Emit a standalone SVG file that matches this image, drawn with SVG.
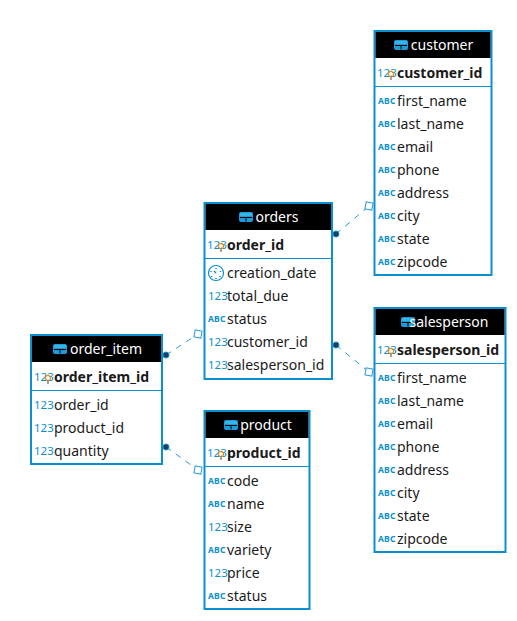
<svg xmlns="http://www.w3.org/2000/svg" width="517" height="621" viewBox="0 0 517 621">
<style>
text{font-family:"Noto Sans","Open Sans","DejaVu Sans",sans-serif;font-size:14px;fill:#1a1a1a}
.box{fill:#fff;stroke:#0a8fd0;stroke-width:2}
.hd{fill:#000}
.sep{stroke:#0a8fd0;stroke-width:1}
text.t{fill:#fff;text-anchor:middle}
text.k{font-weight:700}
text.n{font-size:11.5px;fill:#0a8fd0}
text.a{font-size:8.5px;font-weight:700;fill:#0a8fd0;letter-spacing:.2px}
.lk{fill:none;stroke:#2a9ad6;stroke-width:1;stroke-dasharray:6 6}
.dot{fill:#1f3f5c;stroke:#0a8fd0;stroke-width:1}
.end{fill:#fff;stroke:#2a9ad6;stroke-width:1}
</style>
<defs>
<g id="tbl"><rect x="0" y="0" width="14" height="10" rx="2" fill="#1e9ad8"/><path d="M1 5.5H13M7 5.5V9.5" stroke="#000" stroke-width="1"/><rect x="1" y="1" width="12" height="3" fill="#35b4ec"/></g>
<g id="key"><circle cx="0" cy="0" r="2.6" fill="none" stroke="#e98a15" stroke-width="1.2"/><path d="M0 2.6V6" stroke="#8a7a60" stroke-width="1.4"/></g>
<g id="clk"><circle cx="8" cy="8" r="7.5" fill="#fff" stroke="#0a8fd0" stroke-width="1.2"/><path d="M8 3v1M12.5 6v1M12 11v1M8 13v1M3.500 11v1M3 6v1M6 6l2 2" stroke="#0a8fd0" stroke-width="1.400" fill="none"/></g>
</defs>
<g id="connectors">
<path class="lk" d="M336 234L369 206"/>
<path class="lk" d="M336 345L369 372"/>
<path class="lk" d="M166 355L198 334"/>
<path class="lk" d="M166 447L198 470"/>
<circle class="dot" cx="336" cy="234" r="3"/>
<circle class="dot" cx="336" cy="345" r="3"/>
<circle class="dot" cx="166" cy="355" r="3"/>
<circle class="dot" cx="166" cy="447" r="3"/>
<rect class="end" x="365.500" y="202.500" width="7" height="7" transform="rotate(10 369 206)"/>
<rect class="end" x="365.500" y="368.500" width="7" height="7" transform="rotate(10 369 372)"/>
<rect class="end" x="194.500" y="330.500" width="7" height="7" transform="rotate(10 198 334)"/>
<rect class="end" x="194.500" y="466.500" width="7" height="7" transform="rotate(10 198 470)"/>
</g>
<g id="customer">
<rect class="box" x="374.500" y="31" width="117" height="244"/>
<rect class="hd" x="375.500" y="32" width="115" height="26"/>
<use href="#tbl" x="394" y="40"/>
<text class="t" x="442" y="50">customer</text>
<line class="sep" x1="375" y1="86.500" x2="491" y2="86.500"/>
<text class="n" x="377" y="77">123</text><use href="#key" x="391" y="74"/>
<text class="k" x="397" y="78">customer_id</text>
<text class="a" x="378" y="104">ABC</text><text x="397" y="106">first_name</text>
<text class="a" x="378" y="127">ABC</text><text x="397" y="129">last_name</text>
<text class="a" x="378" y="150">ABC</text><text x="397" y="152">email</text>
<text class="a" x="378" y="173">ABC</text><text x="397" y="175">phone</text>
<text class="a" x="378" y="196">ABC</text><text x="397" y="198">address</text>
<text class="a" x="378" y="219">ABC</text><text x="397" y="221">city</text>
<text class="a" x="378" y="242">ABC</text><text x="397" y="244">state</text>
<text class="a" x="378" y="265">ABC</text><text x="397" y="267">zipcode</text>
</g>
<g id="orders">
<rect class="box" x="204.500" y="203" width="127.500" height="176"/>
<rect class="hd" x="205.500" y="204" width="125.500" height="26"/>
<use href="#tbl" x="239" y="212"/>
<text class="t" x="277" y="222">orders</text>
<line class="sep" x1="205" y1="258.500" x2="331" y2="258.500"/>
<text class="n" x="207" y="249">123</text><use href="#key" x="221" y="246"/>
<text class="k" x="227" y="250">order_id</text>
<use href="#clk" x="208" y="265"/><text x="227" y="278">creation_date</text>
<text class="n" x="208" y="300">123</text><text x="227" y="301">total_due</text>
<text class="a" x="208" y="322">ABC</text><text x="227" y="324">status</text>
<text class="n" x="208" y="346">123</text><text x="227" y="347">customer_id</text>
<text class="n" x="208" y="369">123</text><text x="227" y="370">salesperson_id</text>
</g>
<g id="salesperson">
<rect class="box" x="374.500" y="308" width="131" height="244"/>
<rect class="hd" x="375.500" y="309" width="129" height="26"/>
<use href="#tbl" x="401" y="317"/>
<text class="t" x="449" y="327">salesperson</text>
<line class="sep" x1="375" y1="363.500" x2="505" y2="363.500"/>
<text class="n" x="377" y="354">123</text><use href="#key" x="391" y="351"/>
<text class="k" x="397" y="355">salesperson_id</text>
<text class="a" x="378" y="381">ABC</text><text x="397" y="383">first_name</text>
<text class="a" x="378" y="404">ABC</text><text x="397" y="406">last_name</text>
<text class="a" x="378" y="427">ABC</text><text x="397" y="429">email</text>
<text class="a" x="378" y="450">ABC</text><text x="397" y="452">phone</text>
<text class="a" x="378" y="473">ABC</text><text x="397" y="475">address</text>
<text class="a" x="378" y="496">ABC</text><text x="397" y="498">city</text>
<text class="a" x="378" y="519">ABC</text><text x="397" y="521">state</text>
<text class="a" x="378" y="542">ABC</text><text x="397" y="544">zipcode</text>
</g>
<g id="order_item">
<rect class="box" x="31" y="335" width="131" height="129"/>
<rect class="hd" x="32" y="336" width="129" height="26"/>
<use href="#tbl" x="53" y="344"/>
<text class="t" x="106" y="354">order_item</text>
<line class="sep" x1="32" y1="390.500" x2="161" y2="390.500"/>
<text class="n" x="34" y="381">123</text><use href="#key" x="48" y="378"/>
<text class="k" x="54" y="382">order_item_id</text>
<text class="n" x="34" y="409">123</text><text x="54" y="410">order_id</text>
<text class="n" x="34" y="432">123</text><text x="54" y="433">product_id</text>
<text class="n" x="34" y="455">123</text><text x="54" y="456">quantity</text>
</g>
<g id="product">
<rect class="box" x="204.500" y="411" width="105" height="198"/>
<rect class="hd" x="205.500" y="412" width="103" height="26"/>
<use href="#tbl" x="224" y="420"/>
<text class="t" x="266" y="430">product</text>
<line class="sep" x1="205" y1="466.500" x2="309" y2="466.500"/>
<text class="n" x="207" y="457">123</text><use href="#key" x="221" y="454"/>
<text class="k" x="227" y="458">product_id</text>
<text class="a" x="208" y="484">ABC</text><text x="227" y="486">code</text>
<text class="a" x="208" y="507">ABC</text><text x="227" y="509">name</text>
<text class="n" x="208" y="531">123</text><text x="227" y="532">size</text>
<text class="a" x="208" y="553">ABC</text><text x="227" y="555">variety</text>
<text class="n" x="208" y="577">123</text><text x="227" y="578">price</text>
<text class="a" x="208" y="599">ABC</text><text x="227" y="601">status</text>
</g>
</svg>
